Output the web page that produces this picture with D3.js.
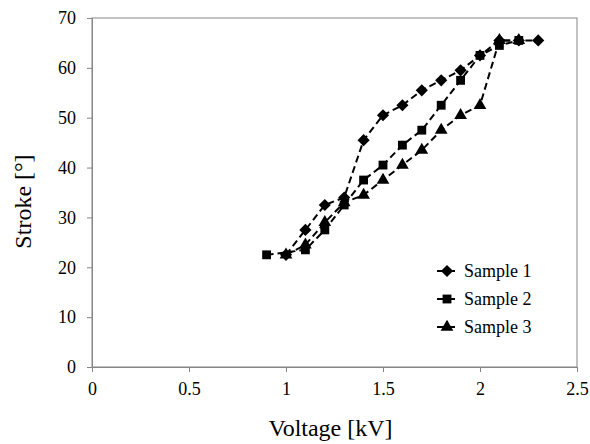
<!DOCTYPE html>
<html>
<head>
<meta charset="utf-8">
<script src="https://cdn.jsdelivr.net/npm/d3@7"></script>
<style>
  body { margin: 0; background: #fff; }
  svg { display: block; font-family: "Liberation Serif", "Times New Roman", serif; }
  svg text { font-family: "Liberation Serif", "Times New Roman", serif; }
</style>
</head>
<body>
<svg id="chart" width="590" height="444"></svg>
<script>
// data
const xTicks = [0, 0.5, 1, 1.5, 2, 2.5];
const yTicks = [0, 10, 20, 30, 40, 50, 60, 70];

const sample1X = [1.0, 1.1, 1.2, 1.3, 1.4, 1.5, 1.6, 1.7, 1.8, 1.9, 2.0, 2.1, 2.2, 2.3];
const sample1Y = [22.5, 27.5, 32.5, 34, 45.5, 50.5, 52.5, 55.5, 57.5, 59.5, 62.5, 65.5, 65.5, 65.5];

const sample2X = [0.9, 1.1, 1.2, 1.3, 1.4, 1.5, 1.6, 1.7, 1.8, 1.9, 2.0, 2.1, 2.2];
const sample2Y = [22.5, 23.5, 27.5, 32.5, 37.5, 40.5, 44.5, 47.5, 52.5, 57.5, 62.5, 64.5, 65.5];

const sample3X = [1.0, 1.1, 1.2, 1.3, 1.4, 1.5, 1.6, 1.7, 1.8, 1.9, 2.0, 2.1, 2.2];
const sample3Y = [22.5, 24.5, 29, 33, 34.5, 37.5, 40.5, 43.5, 47.5, 50.5, 52.5, 65.5, 65.5];

const seriesNames = ["Sample 1", "Sample 2", "Sample 3"];

const margin = { top: 18, right: 13, bottom: 77, left: 92 };
const width = 590 - margin.left - margin.right;
const height = 444 - margin.top - margin.bottom;

const svg = d3.select("#chart");
const g = svg.append("g").attr("transform", "translate(" + margin.left + "," + margin.top + ")");

const x = d3.scaleLinear().domain([0, 2.5]).range([0, width]);
const y = d3.scaleLinear().domain([0, 70]).range([height, 0]);

const axisColor = "#868686";

// frame
g.append("rect")
  .attr("width", width).attr("height", height)
  .attr("fill", "none").attr("stroke", axisColor).attr("stroke-width", 1);

// X axis
const xAxis = g.append("g")
  .attr("transform", "translate(0," + height + ")")
  .call(d3.axisBottom(x).tickValues(xTicks).tickSize(5).tickPadding(10).tickFormat(d => d));
// Y axis
const yAxis = g.append("g")
  .call(d3.axisLeft(y).tickValues(yTicks).tickSize(5).tickPadding(11));

[xAxis, yAxis].forEach(a => {
  a.attr("font-family", null).attr("font-size", null);
  a.select(".domain").attr("stroke", axisColor);
  a.selectAll(".tick line").attr("stroke", axisColor);
  a.selectAll("text").attr("fill", "#000").style("font-size", "18px");
});

// axis titles
svg.append("text")
  .attr("x", margin.left + width / 2 - 4)
  .attr("y", 436)
  .attr("text-anchor", "middle")
  .style("font-size", "24px")
  .text("Voltage [kV]");

svg.append("text")
  .attr("transform", "translate(31," + (margin.top + height / 2 + 9) + ") rotate(-90)")
  .attr("text-anchor", "middle")
  .style("font-size", "24px")
  .text("Stroke [°]");

const line = d3.line().x(d => x(d[0])).y(d => y(d[1]));

// diamond drawn as a square turned 45 degrees
const symbols = [
  d3.symbol().type(d3.symbolSquare).size(74),
  d3.symbol().type(d3.symbolSquare).size(78),
  d3.symbol().type(d3.symbolTriangle).size(70)
];
const rotations = [45, 0, 0];

const series = [
  d3.zip(sample1X, sample1Y),
  d3.zip(sample2X, sample2Y),
  d3.zip(sample3X, sample3Y)
];

series.forEach((data, i) => {
  g.append("path")
    .datum(data)
    .attr("fill", "none")
    .attr("stroke", "#000")
    .attr("stroke-width", 2)
    .attr("stroke-dasharray", "7,4")
    .attr("d", line);
});

series.forEach((data, i) => {
  g.selectAll(".m" + i)
    .data(data)
    .enter().append("path")
    .attr("class", "m" + i)
    .attr("transform", d => "translate(" + x(d[0]) + "," + y(d[1]) + ") rotate(" + rotations[i] + ")")
    .attr("d", symbols[i])
    .attr("fill", "#000");
});

// legend
const legend = svg.append("g").attr("transform", "translate(437,271)");
seriesNames.forEach((name, i) => {
  const row = legend.append("g").attr("transform", "translate(0," + (i * 28) + ")");
  row.append("line").attr("x1", 0).attr("x2", 18).attr("stroke", "#000").attr("stroke-width", 2);
  row.append("path").attr("transform", "translate(10,0) rotate(" + rotations[i] + ")").attr("d", symbols[i]).attr("fill", "#000");
  row.append("text").attr("x", 27).attr("y", 6).style("font-size", "18px").text(name);
});
</script>
</body>
</html>
